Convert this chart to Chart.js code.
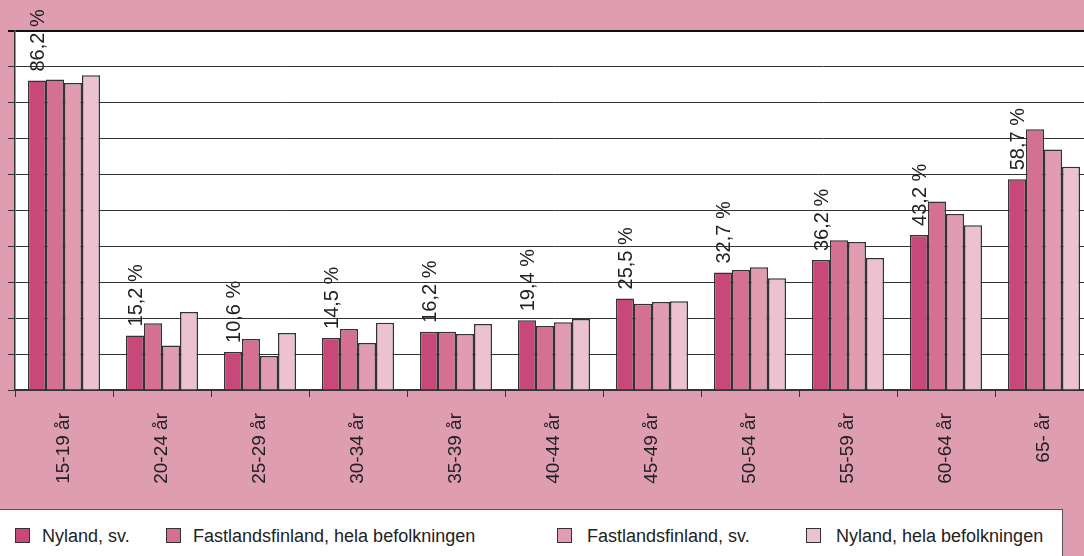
<!DOCTYPE html>
<html><head><meta charset="utf-8">
<script src="https://cdn.jsdelivr.net/npm/chart.js@4/dist/chart.umd.min.js"></script>
<style>
html,body{margin:0;padding:0;width:1084px;height:556px;overflow:hidden;background:#df9db1;font-family:"Liberation Sans",Arial,sans-serif;}
#wrap{position:absolute;left:0;top:0;width:1084px;height:510px;overflow:hidden;}
#c{position:absolute;left:0;top:0;}
#legend{position:absolute;left:0;top:509px;width:1062px;height:47px;background:#fff;border-top:1px solid #555;border-right:1px solid #555;}
.item{position:absolute;top:17px;font-size:18px;color:#222;line-height:18px;white-space:nowrap;}
.sw{position:absolute;top:1px;width:13px;height:13px;border:1px solid #333;}
</style></head>
<body>
<div id="wrap"><canvas id="c" width="1093" height="510"></canvas></div>
<div id="legend"></div>
<script>
const categories = ['15-19 år','20-24 år','25-29 år','30-34 år','35-39 år','40-44 år','45-49 år','50-54 år','55-59 år','60-64 år','65- år'];
const seriesNames = ['Nyland, sv.','Fastlandsfinland, hela befolkningen','Fastlandsfinland, sv.','Nyland, hela befolkningen'];
const nylandSv      = [86.2,15.2,10.6,14.5,16.2,19.4,25.5,32.7,36.2,43.2,58.7];
const fastlandHela  = [86.5,18.6,14.2,17.0,16.2,17.8,24.0,33.4,41.7,52.5,72.6];
const fastlandSv    = [85.5,12.4,9.5,13.1,15.6,18.9,24.5,34.2,41.2,49.0,67.0];
const nylandHela    = [87.7,21.7,15.9,18.7,18.4,19.8,24.7,31.1,36.8,45.9,62.2];
const yMin = 0, yMax = 100, yStep = 10;

const colors = ['#c8487a','#d47193','#e19cb1','#ecc1d0'];
const legendLeft = [15,166,557,806];
const legendTextOffset = [27,27,30,30];
const FONT = '"Liberation Sans", Arial, sans-serif';

const seriesData = [nylandSv, fastlandHela, fastlandSv, nylandHela];

const plotBg = {
  id:'plotBg',
  beforeDraw(chart){
    const {ctx, chartArea:a} = chart;
    ctx.save(); ctx.fillStyle='#fff';
    ctx.fillRect(a.left, a.top, a.right-a.left, a.bottom-a.top);
    ctx.restore();
  }
};
const valueLabels = {
  id:'valueLabels',
  afterDatasetsDraw(chart){
    const ctx = chart.ctx;
    const meta = chart.getDatasetMeta(0);
    ctx.save();
    ctx.fillStyle='#222';
    ctx.font = '20px ' + FONT;
    ctx.textAlign='left'; ctx.textBaseline='middle';
    meta.data.forEach((bar,i)=>{
      const txt = nylandSv[i].toFixed(1).replace('.',',') + ' %';
      ctx.save();
      ctx.translate(bar.x+1, bar.y-9);
      ctx.rotate(-Math.PI/2);
      ctx.fillText(txt,0,0);
      ctx.restore();
    });
    ctx.restore();
  }
};

new Chart(document.getElementById('c'), {
  type:'bar',
  data:{
    labels:categories,
    datasets: seriesData.map((d,i)=>({
      label:seriesNames[i], data:d, backgroundColor:colors[i],
      borderColor:'#333', borderWidth:1.5, barPercentage:1, categoryPercentage:0.735
    }))
  },
  options:{
    responsive:false, devicePixelRatio:1, animation:false,
    layout:{padding:{top:31,left:0,right:0,bottom:0}},
    plugins:{legend:{display:false}, tooltip:{enabled:false}},
    scales:{
      x:{
        grid:{offset:true, drawOnChartArea:false, drawTicks:true, tickLength:7, color:'#333', lineWidth:1},
        border:{display:true, color:'#333', width:1.5},
        ticks:{minRotation:90, maxRotation:90, autoSkip:false, padding:16, color:'#222', font:{size:19, family:FONT}},
        afterFit(s){ s.height = 120; }
      },
      y:{
        min:yMin, max:yMax,
        ticks:{display:false, stepSize:yStep},
        grid:{color:(c)=> c.tick && c.tick.value===yMax ? '#111' : '#333', lineWidth:(c)=> c.tick && c.tick.value===yMax ? 2 : 1, drawTicks:true, tickLength:7},
        border:{display:true, color:'#333', width:1.5},
        afterFit(s){ s.width = 15; }
      }
    }
  },
  plugins:[plotBg, valueLabels]
});

const lg = document.getElementById('legend');
seriesNames.forEach((n,i)=>{
  const it = document.createElement('div');
  it.className='item';
  it.style.left = legendLeft[i]+'px';
  const sw = document.createElement('span');
  sw.className='sw'; sw.style.left='0px'; sw.style.background=colors[i];
  const t = document.createElement('span');
  t.textContent = n; t.style.marginLeft = legendTextOffset[i]+'px';
  it.appendChild(sw); it.appendChild(t);
  lg.appendChild(it);
});
</script>
</body></html>
